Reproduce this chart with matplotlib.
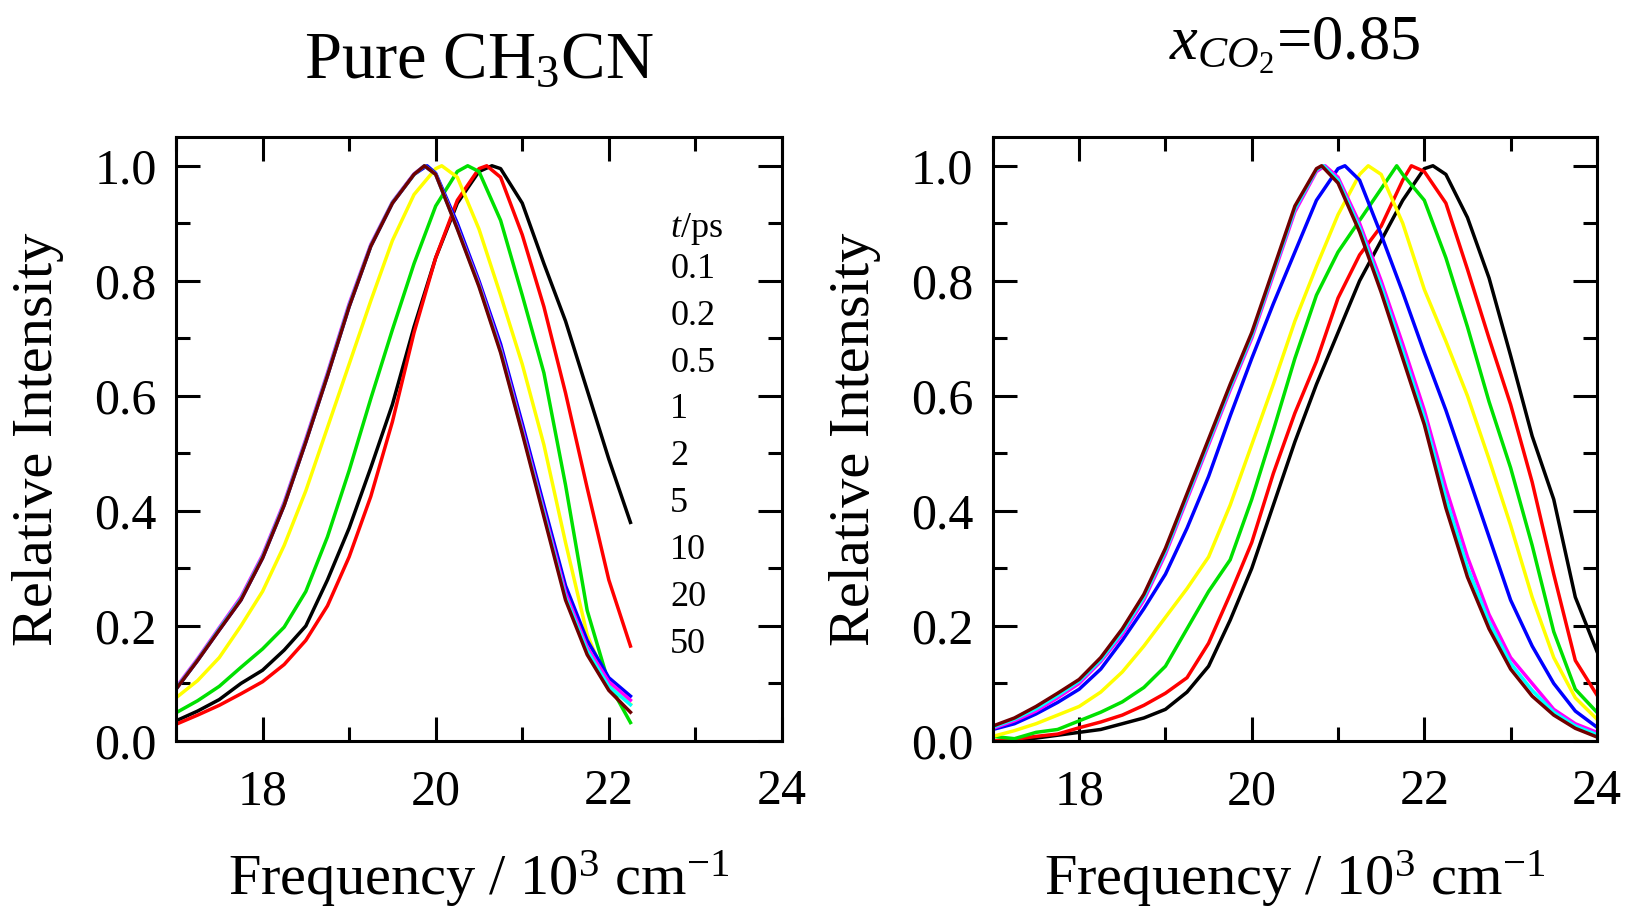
import matplotlib.pyplot as plt
import numpy as np
from matplotlib.ticker import MultipleLocator, FormatStrFormatter

plt.rcParams['font.family'] = ['Liberation Serif', 'DejaVu Serif']
plt.rcParams['mathtext.fontset'] = 'custom'
plt.rcParams['mathtext.rm'] = 'Liberation Serif'
plt.rcParams['mathtext.it'] = 'Liberation Serif:italic'

# time delays (legend text) and line colours
times = ['0.1', '0.2', '0.5', '1', '2', '5', '10', '20', '50']
colors = ['black', 'red', '#00e000', '#ffff00', 'blue', 'magenta', 'cyan', '#700000']

# ---- left panel: pure CH3CN ----
x_left = np.arange(17.0, 22.26, 0.25)
peak_left = [20.65, 20.59, 20.37, 20.07, 19.90, 19.87, 19.87, 19.87]
black_l = [0.035, 0.052, 0.072, 0.100, 0.123, 0.158, 0.200, 0.280, 0.370, 0.475, 0.585,
           0.720, 0.840, 0.935, 0.990, 0.995, 0.935, 0.830, 0.730, 0.610, 0.490, 0.380]
red_l = [0.029, 0.045, 0.062, 0.082, 0.103, 0.133, 0.175, 0.235, 0.320, 0.425, 0.555,
         0.710, 0.840, 0.940, 0.995, 0.980, 0.880, 0.755, 0.605, 0.440, 0.280, 0.165]
green_l = [0.049, 0.070, 0.095, 0.128, 0.160, 0.198, 0.260, 0.355, 0.470, 0.595, 0.715,
           0.830, 0.930, 0.990, 0.990, 0.905, 0.775, 0.640, 0.445, 0.227, 0.100, 0.032]
yellow_l = [0.075, 0.105, 0.145, 0.200, 0.260, 0.340, 0.435, 0.545, 0.655, 0.765, 0.870,
            0.950, 0.995, 0.980, 0.890, 0.775, 0.655, 0.515, 0.345, 0.185, 0.095, 0.064]
blue_l = [0.090, 0.140, 0.193, 0.245, 0.318, 0.410, 0.520, 0.635, 0.755, 0.860, 0.935,
          0.985, 0.987, 0.900, 0.800, 0.690, 0.552, 0.410, 0.270, 0.175, 0.110, 0.078]
magenta_l = [0.093, 0.143, 0.197, 0.250, 0.323, 0.415, 0.525, 0.640, 0.760, 0.863, 0.937,
             0.986, 0.985, 0.893, 0.795, 0.682, 0.543, 0.400, 0.258, 0.163, 0.103, 0.071]
cyan_l = [0.091, 0.141, 0.195, 0.247, 0.320, 0.412, 0.522, 0.637, 0.757, 0.861, 0.936,
          0.985, 0.985, 0.891, 0.792, 0.678, 0.538, 0.395, 0.250, 0.157, 0.095, 0.063]
brown_l = [0.090, 0.140, 0.193, 0.245, 0.318, 0.410, 0.520, 0.635, 0.755, 0.860, 0.935,
           0.985, 0.985, 0.890, 0.790, 0.675, 0.535, 0.390, 0.245, 0.150, 0.088, 0.050]

# ---- right panel: x_CO2 = 0.85 ----
x_right = np.arange(17.0, 24.01, 0.25)
peak_right = [22.10, 21.85, 21.68, 21.35, 21.08, 20.85, 20.83, 20.81]
black_r = [0.000, 0.002, 0.005, 0.010, 0.015, 0.020, 0.030, 0.040, 0.055, 0.085, 0.130,
           0.210, 0.300, 0.410, 0.520, 0.620, 0.710, 0.800, 0.870, 0.940, 0.995, 0.985,
           0.910, 0.805, 0.670, 0.530, 0.420, 0.250, 0.156]
red_r = [0.000, 0.003, 0.008, 0.012, 0.023, 0.033, 0.045, 0.062, 0.083, 0.110, 0.170,
         0.255, 0.345, 0.465, 0.570, 0.660, 0.770, 0.845, 0.895, 0.975, 0.990, 0.935,
         0.820, 0.700, 0.585, 0.450, 0.290, 0.140, 0.080]
green_r = [0.008, 0.004, 0.015, 0.020, 0.035, 0.050, 0.068, 0.093, 0.130, 0.195, 0.260,
           0.315, 0.420, 0.540, 0.665, 0.775, 0.850, 0.905, 0.960, 0.985, 0.940, 0.840,
           0.720, 0.590, 0.475, 0.340, 0.190, 0.090, 0.050]
yellow_r = [0.008, 0.018, 0.030, 0.045, 0.060, 0.085, 0.120, 0.165, 0.215, 0.265, 0.320,
            0.410, 0.515, 0.620, 0.730, 0.825, 0.915, 0.985, 0.985, 0.900, 0.785, 0.695,
            0.600, 0.490, 0.375, 0.250, 0.145, 0.075, 0.038]
blue_r = [0.020, 0.030, 0.047, 0.067, 0.090, 0.125, 0.175, 0.230, 0.290, 0.370, 0.460,
          0.565, 0.665, 0.760, 0.850, 0.940, 0.995, 0.975, 0.880, 0.780, 0.675, 0.575,
          0.465, 0.355, 0.245, 0.165, 0.100, 0.052, 0.024]
magenta_r = [0.022, 0.035, 0.052, 0.075, 0.100, 0.138, 0.185, 0.245, 0.325, 0.420, 0.515,
             0.610, 0.700, 0.810, 0.920, 0.990, 0.980, 0.900, 0.800, 0.690, 0.575, 0.440,
             0.320, 0.220, 0.145, 0.100, 0.055, 0.030, 0.015]
cyan_r = [0.024, 0.038, 0.056, 0.079, 0.104, 0.141, 0.190, 0.250, 0.330, 0.425, 0.520,
          0.615, 0.705, 0.815, 0.925, 0.993, 0.975, 0.892, 0.790, 0.677, 0.562, 0.422,
          0.302, 0.207, 0.135, 0.088, 0.050, 0.026, 0.011]
brown_r = [0.026, 0.040, 0.060, 0.083, 0.107, 0.145, 0.195, 0.255, 0.335, 0.430, 0.525,
           0.620, 0.710, 0.820, 0.930, 0.995, 0.970, 0.885, 0.780, 0.665, 0.550, 0.405,
           0.285, 0.195, 0.125, 0.078, 0.045, 0.022, 0.007]

left_series = [black_l, red_l, green_l, yellow_l, blue_l, magenta_l, cyan_l, brown_l]
right_series = [black_r, red_r, green_r, yellow_r, blue_r, magenta_r, cyan_r, brown_r]


def with_peak(xs, ys, xp):
    """put the maximum (normalised to 1) into the sampled curve"""
    i = np.searchsorted(xs, xp)
    return np.insert(xs, i, xp), np.insert(np.array(ys), i, 1.0)


def style_axes(ax):
    ax.set_xlim(17, 24)
    ax.set_ylim(0, 1.05)
    ax.xaxis.set_major_locator(MultipleLocator(2))
    ax.xaxis.set_minor_locator(MultipleLocator(1))
    ax.yaxis.set_major_locator(MultipleLocator(0.2))
    ax.yaxis.set_minor_locator(MultipleLocator(0.1))
    ax.yaxis.set_major_formatter(FormatStrFormatter('%.1f'))
    ax.tick_params(which='both', direction='in', top=True, right=True, width=2.2,
                   labelsize=36)
    ax.tick_params(which='major', length=17)
    ax.tick_params(which='minor', length=10)
    ax.tick_params(axis='x', pad=20)
    ax.tick_params(axis='y', pad=14)
    for s in ax.spines.values():
        s.set_linewidth(2.2)
    ax.set_xlabel('Frequency / 10$^3$ cm$^{-1}$', fontsize=42)
    ax.set_ylabel('Relative Intensity', fontsize=42)
    ax.xaxis.set_label_coords(0.5, -0.177)
    ax.yaxis.set_label_coords(-0.185, 0.5)


fig = plt.figure(figsize=(16.25, 9.14), dpi=100)
ax1 = fig.add_axes([0.1083, 0.1893, 0.3729, 0.6608])
ax2 = fig.add_axes([0.611, 0.1893, 0.3717, 0.6608])

for ys, xp, c in zip(left_series, peak_left, colors):
    xs, yy = with_peak(x_left, ys, xp)
    ax1.plot(xs, yy, color=c, lw=2.5)
for ys, xp, c in zip(right_series, peak_right, colors):
    xs, yy = with_peak(x_right, ys, xp)
    ax2.plot(xs, yy, color=c, lw=2.5)

style_axes(ax1)
style_axes(ax2)

ax1.set_title('Pure CH$_3$CN', fontsize=48, pad=43)
ax2.set_title('$x_{CO_2}$=0.85', fontsize=45, pad=56)

# text-only legend
ax1.text(22.71, 0.89, '$t$/ps', fontsize=26, va='center', ha='left')
for i, t in enumerate(times):
    ax1.text(22.71, 0.82 - 0.0815 * i, t, fontsize=26, va='center', ha='left')

fig.savefig('out.png', dpi=100)
